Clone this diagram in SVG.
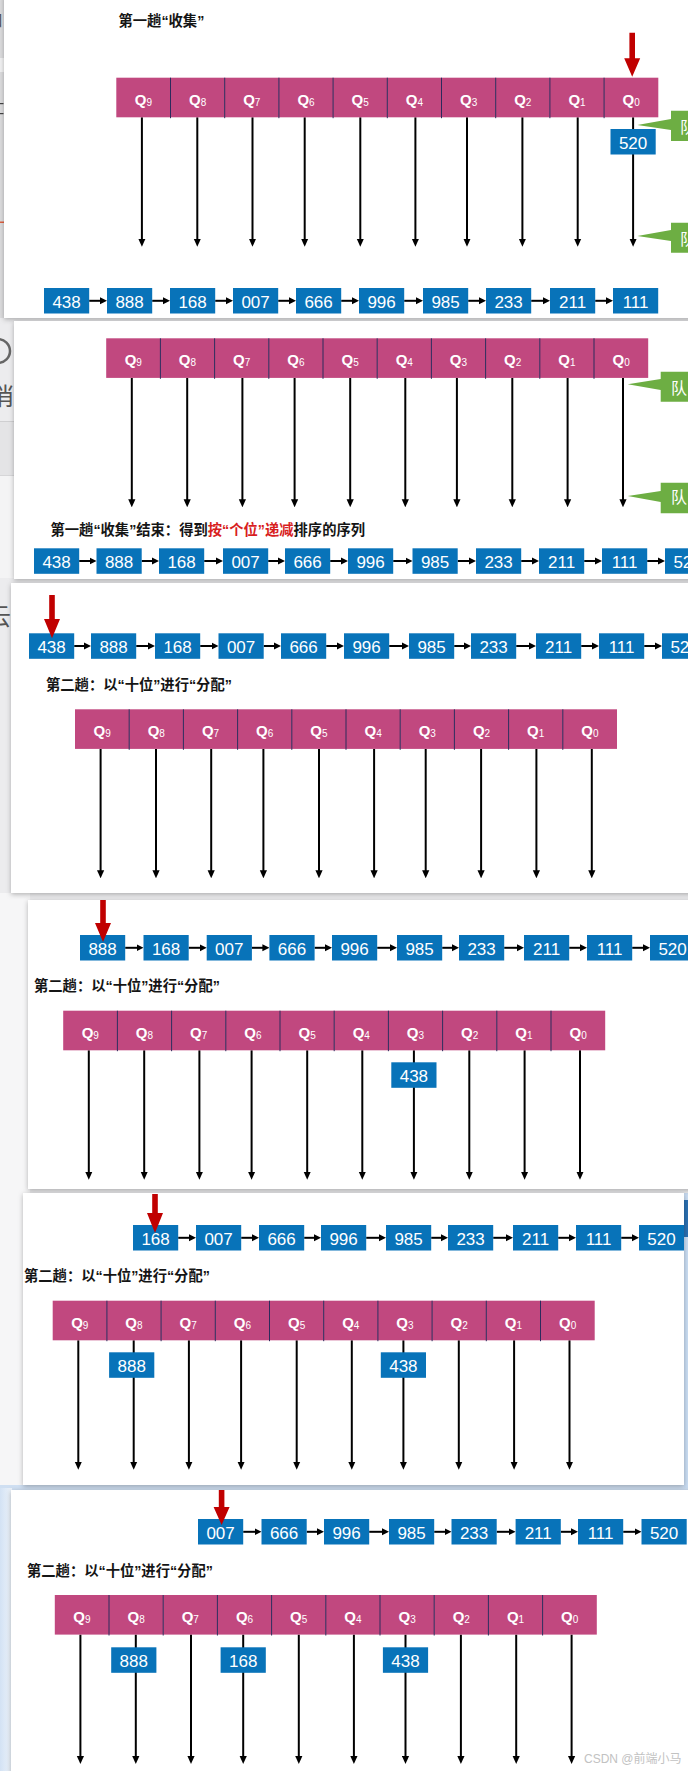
<svg xmlns="http://www.w3.org/2000/svg" width="688" height="1771" viewBox="0 0 688 1771">
<style>
.pn{fill:#fff;filter:url(#sh)}
.q rect{fill:#C1487F}
.dv{stroke:#2c2a5c;stroke-width:1;fill:none}
.qt{font-family:"Liberation Sans",Arial,sans-serif;font-weight:bold;font-size:15px;fill:#fff;text-anchor:middle}
.qt tspan{font-size:10px;font-weight:normal}
.nb rect{fill:#0873B9}
.nt{font-family:"Liberation Sans",Arial,sans-serif;font-size:17px;fill:#fff;text-anchor:middle}
.dn{stroke:#000;stroke-width:2;marker-end:url(#ad)}
.hz{stroke:#000;stroke-width:2;marker-end:url(#ah)}
.tt{font-family:"Liberation Sans","Noto Sans CJK SC",sans-serif;font-weight:bold;font-size:14.3px;fill:#151515}
.red{fill:#d81e1e}
.ra{fill:#C00000}
.gc{fill:#6DAE43}
.gt{font-family:"Noto Sans CJK SC",sans-serif;font-size:16px;fill:#fff}
.frag{font-family:"Noto Sans CJK SC",sans-serif;fill:#555}
</style>
<defs>
<filter id="sh" x="-5%" y="-5%" width="110%" height="115%"><feDropShadow dx="0" dy="1.5" stdDeviation="2.5" flood-color="#000" flood-opacity="0.28"/></filter>
<marker id="ad" viewBox="0 -4 8 8" markerWidth="8" markerHeight="8" refX="4" refY="0" orient="auto" markerUnits="userSpaceOnUse"><path d="M0,-3.6L8,0L0,3.6Z" fill="#000"/></marker>
<marker id="ah" viewBox="0 -4 7 8" markerWidth="7" markerHeight="8" refX="3.5" refY="0" orient="auto" markerUnits="userSpaceOnUse"><path d="M0,-3.5L7,0L0,3.5Z" fill="#000"/></marker>
<linearGradient id="lb" x1="0" y1="0" x2="1" y2="0"><stop offset="0" stop-color="#d3e2f4"/><stop offset="1" stop-color="#eef4fb"/></linearGradient>
</defs>

<!-- background and side fragments -->
<rect x="0" y="0" width="688" height="1771" fill="#ececee"/>
<rect x="0" y="893" width="30" height="600" fill="#f6f6f7"/>
<rect x="0" y="1485" width="688" height="6" fill="#cfdff2"/>
<rect x="0" y="1488" width="12" height="283" fill="url(#lb)"/>
<rect x="0" y="0" width="5" height="318" fill="#dcdcde"/>
<rect x="0" y="58" width="5" height="14" fill="#f2f2f3"/>
<rect x="0" y="103" width="3.5" height="1.2" fill="#444"/>
<rect x="0" y="113" width="3.5" height="1.2" fill="#444"/>
<rect x="0" y="221.5" width="5" height="1.5" fill="#e06040"/>
<text class="frag" x="-13" y="26" font-size="16">口</text>
<rect x="0" y="421" width="15" height="54" fill="#e4e4e6"/>
<rect x="0" y="421" width="15" height="1" fill="#cfcfd1"/>
<rect x="0" y="475" width="15" height="1" fill="#d6d6d8"/>
<rect x="0" y="476" width="15" height="102" fill="#f4f4f5"/>
<circle cx="-2" cy="351" r="12" fill="none" stroke="#666" stroke-width="2.5"/>
<text class="frag" x="-10" y="405" font-size="24">消</text>
<text class="frag" x="-13" y="625" font-size="24">云</text>
<rect x="684" y="1193" width="4" height="295" fill="#c9dcf2"/>
<rect x="684" y="1200" width="4" height="37" fill="#2a6fb0"/>

<!-- panels -->
<rect id="p1" class="pn" x="4" y="-5" width="690" height="323"/>
<rect id="p2" class="pn" x="14" y="321" width="680" height="258"/>
<rect id="p3" class="pn" x="11" y="583" width="683" height="310"/>
<rect id="p4" class="pn" x="28" y="900" width="666" height="289"/>
<rect id="p5" class="pn" x="23" y="1193" width="661" height="292"/>
<rect id="p6" class="pn" x="11" y="1490" width="683" height="290"/>

<!-- titles -->
<text id="p1-title" class="tt" x="118.5" y="26">第一趟“收集”</text>
<text id="p2-title" class="tt" x="50.5" y="535">第一趟“收集”结束：得到<tspan class="red">按“个位”递减</tspan>排序的序列</text>
<text id="p3-title" class="tt" x="46" y="689.5">第二趟：以“十位”进行“分配”</text>
<text id="p4-title" class="tt" x="34" y="991">第二趟：以“十位”进行“分配”</text>
<text id="p5-title" class="tt" x="24" y="1281">第二趟：以“十位”进行“分配”</text>
<text id="p6-title" class="tt" x="27" y="1576">第二趟：以“十位”进行“分配”</text>

<!-- green callouts -->
<g id="p1-callout-a"><path class="gc" d="M637.3,125L671,119V110.7H690V141H671V130Z"/><text class="gt" x="680" y="133">队</text></g>
<g id="p1-callout-b"><path class="gc" d="M637.3,236L671,230V222.7H690V252.7H671V241Z"/><text class="gt" x="680" y="245">队</text></g>
<g id="p2-callout-a"><path class="gc" d="M627.7,384.3L660.7,379V371.7H690V401.7H660.7V390Z"/><text class="gt" x="671" y="394">队</text></g>
<g id="p2-callout-b"><path class="gc" d="M627.7,496L660.7,491V482.7H690V513.3H660.7V502Z"/><text class="gt" x="671" y="502.5">队</text></g>

<!-- connectors -->
<g id="connectors">
<g transform="translate(116.3,77.7)"><line class="dn" x1="25.6" y1="39.6" x2="25.6" y2="165"/><line class="dn" x1="81" y1="39.6" x2="81" y2="165"/><line class="dn" x1="136.2" y1="39.6" x2="136.2" y2="165"/><line class="dn" x1="188.4" y1="39.6" x2="188.4" y2="165"/><line class="dn" x1="244" y1="39.6" x2="244" y2="165"/><line class="dn" x1="299.1" y1="39.6" x2="299.1" y2="165"/><line class="dn" x1="350.7" y1="39.6" x2="350.7" y2="165"/><line class="dn" x1="406.1" y1="39.6" x2="406.1" y2="165"/><line class="dn" x1="461.4" y1="39.6" x2="461.4" y2="165"/><line class="dn" x1="516.8" y1="39.6" x2="516.8" y2="165"/></g>
<g transform="translate(106.2,338.3)"><line class="dn" x1="25.6" y1="39.6" x2="25.6" y2="165"/><line class="dn" x1="81" y1="39.6" x2="81" y2="165"/><line class="dn" x1="136.2" y1="39.6" x2="136.2" y2="165"/><line class="dn" x1="188.4" y1="39.6" x2="188.4" y2="165"/><line class="dn" x1="244" y1="39.6" x2="244" y2="165"/><line class="dn" x1="299.1" y1="39.6" x2="299.1" y2="165"/><line class="dn" x1="350.7" y1="39.6" x2="350.7" y2="165"/><line class="dn" x1="406.1" y1="39.6" x2="406.1" y2="165"/><line class="dn" x1="461.4" y1="39.6" x2="461.4" y2="165"/><line class="dn" x1="516.8" y1="39.6" x2="516.8" y2="165"/></g>
<g transform="translate(75,709.3)"><line class="dn" x1="25.6" y1="39.6" x2="25.6" y2="165"/><line class="dn" x1="81" y1="39.6" x2="81" y2="165"/><line class="dn" x1="136.2" y1="39.6" x2="136.2" y2="165"/><line class="dn" x1="188.4" y1="39.6" x2="188.4" y2="165"/><line class="dn" x1="244" y1="39.6" x2="244" y2="165"/><line class="dn" x1="299.1" y1="39.6" x2="299.1" y2="165"/><line class="dn" x1="350.7" y1="39.6" x2="350.7" y2="165"/><line class="dn" x1="406.1" y1="39.6" x2="406.1" y2="165"/><line class="dn" x1="461.4" y1="39.6" x2="461.4" y2="165"/><line class="dn" x1="516.8" y1="39.6" x2="516.8" y2="165"/></g>
<g transform="translate(63.2,1010.7)"><line class="dn" x1="25.6" y1="39.6" x2="25.6" y2="165"/><line class="dn" x1="81" y1="39.6" x2="81" y2="165"/><line class="dn" x1="136.2" y1="39.6" x2="136.2" y2="165"/><line class="dn" x1="188.4" y1="39.6" x2="188.4" y2="165"/><line class="dn" x1="244" y1="39.6" x2="244" y2="165"/><line class="dn" x1="299.1" y1="39.6" x2="299.1" y2="165"/><line class="dn" x1="350.7" y1="39.6" x2="350.7" y2="165"/><line class="dn" x1="406.1" y1="39.6" x2="406.1" y2="165"/><line class="dn" x1="461.4" y1="39.6" x2="461.4" y2="165"/><line class="dn" x1="516.8" y1="39.6" x2="516.8" y2="165"/></g>
<g transform="translate(52.7,1300.7)"><line class="dn" x1="25.6" y1="39.6" x2="25.6" y2="165"/><line class="dn" x1="81" y1="39.6" x2="81" y2="165"/><line class="dn" x1="136.2" y1="39.6" x2="136.2" y2="165"/><line class="dn" x1="188.4" y1="39.6" x2="188.4" y2="165"/><line class="dn" x1="244" y1="39.6" x2="244" y2="165"/><line class="dn" x1="299.1" y1="39.6" x2="299.1" y2="165"/><line class="dn" x1="350.7" y1="39.6" x2="350.7" y2="165"/><line class="dn" x1="406.1" y1="39.6" x2="406.1" y2="165"/><line class="dn" x1="461.4" y1="39.6" x2="461.4" y2="165"/><line class="dn" x1="516.8" y1="39.6" x2="516.8" y2="165"/></g>
<g transform="translate(54.8,1595)"><line class="dn" x1="25.6" y1="39.6" x2="25.6" y2="165"/><line class="dn" x1="81" y1="39.6" x2="81" y2="165"/><line class="dn" x1="136.2" y1="39.6" x2="136.2" y2="165"/><line class="dn" x1="188.4" y1="39.6" x2="188.4" y2="165"/><line class="dn" x1="244" y1="39.6" x2="244" y2="165"/><line class="dn" x1="299.1" y1="39.6" x2="299.1" y2="165"/><line class="dn" x1="350.7" y1="39.6" x2="350.7" y2="165"/><line class="dn" x1="406.1" y1="39.6" x2="406.1" y2="165"/><line class="dn" x1="461.4" y1="39.6" x2="461.4" y2="165"/><line class="dn" x1="516.8" y1="39.6" x2="516.8" y2="165"/></g>
<g transform="translate(0,300.8)"><line class="hz" x1="89.2" y1="0" x2="103.5" y2="0"/><line class="hz" x1="152.2" y1="0" x2="166.5" y2="0"/><line class="hz" x1="215.2" y1="0" x2="229.5" y2="0"/><line class="hz" x1="278.2" y1="0" x2="292.5" y2="0"/><line class="hz" x1="341.2" y1="0" x2="355.5" y2="0"/><line class="hz" x1="404.2" y1="0" x2="419.5" y2="0"/><line class="hz" x1="468.2" y1="0" x2="482.5" y2="0"/><line class="hz" x1="531.2" y1="0" x2="546.5" y2="0"/><line class="hz" x1="595.2" y1="0" x2="609.5" y2="0"/></g>
<g transform="translate(0,561)"><line class="hz" x1="79.2" y1="0" x2="93" y2="0"/><line class="hz" x1="141.7" y1="0" x2="155.5" y2="0"/><line class="hz" x1="204.2" y1="0" x2="219.5" y2="0"/><line class="hz" x1="268.2" y1="0" x2="281.5" y2="0"/><line class="hz" x1="330.2" y1="0" x2="344.5" y2="0"/><line class="hz" x1="393.2" y1="0" x2="409" y2="0"/><line class="hz" x1="457.7" y1="0" x2="472.5" y2="0"/><line class="hz" x1="521.2" y1="0" x2="535.5" y2="0"/><line class="hz" x1="584.2" y1="0" x2="598.5" y2="0"/><line class="hz" x1="647.2" y1="0" x2="661.5" y2="0"/></g>
<g transform="translate(0,646)"><line class="hz" x1="74.2" y1="0" x2="87.5" y2="0"/><line class="hz" x1="136.2" y1="0" x2="151.5" y2="0"/><line class="hz" x1="200.2" y1="0" x2="215" y2="0"/><line class="hz" x1="263.7" y1="0" x2="277.5" y2="0"/><line class="hz" x1="326.2" y1="0" x2="340.5" y2="0"/><line class="hz" x1="389.2" y1="0" x2="405.5" y2="0"/><line class="hz" x1="454.2" y1="0" x2="467.5" y2="0"/><line class="hz" x1="516.2" y1="0" x2="532.5" y2="0"/><line class="hz" x1="581.2" y1="0" x2="595.5" y2="0"/><line class="hz" x1="644.2" y1="0" x2="658.5" y2="0"/></g>
<g transform="translate(0,947.8)"><line class="hz" x1="125.2" y1="0" x2="140" y2="0"/><line class="hz" x1="188.7" y1="0" x2="203.2" y2="0"/><line class="hz" x1="251.9" y1="0" x2="265.9" y2="0"/><line class="hz" x1="314.6" y1="0" x2="328.5" y2="0"/><line class="hz" x1="377.2" y1="0" x2="393.5" y2="0"/><line class="hz" x1="442.2" y1="0" x2="455.5" y2="0"/><line class="hz" x1="504.2" y1="0" x2="520.5" y2="0"/><line class="hz" x1="569.2" y1="0" x2="583.5" y2="0"/><line class="hz" x1="632.2" y1="0" x2="646.5" y2="0"/></g>
<g transform="translate(0,1237.8)"><line class="hz" x1="178.2" y1="0" x2="192.5" y2="0"/><line class="hz" x1="241.2" y1="0" x2="255.5" y2="0"/><line class="hz" x1="304.2" y1="0" x2="317.5" y2="0"/><line class="hz" x1="366.2" y1="0" x2="382.5" y2="0"/><line class="hz" x1="431.2" y1="0" x2="444.5" y2="0"/><line class="hz" x1="493.2" y1="0" x2="509.5" y2="0"/><line class="hz" x1="558.2" y1="0" x2="572.5" y2="0"/><line class="hz" x1="621.2" y1="0" x2="635.5" y2="0"/></g>
<g transform="translate(0,1531.8)"><line class="hz" x1="243.2" y1="0" x2="258" y2="0"/><line class="hz" x1="306.7" y1="0" x2="320.5" y2="0"/><line class="hz" x1="369.2" y1="0" x2="385.5" y2="0"/><line class="hz" x1="434.2" y1="0" x2="448" y2="0"/><line class="hz" x1="496.7" y1="0" x2="512.1" y2="0"/><line class="hz" x1="560.8" y1="0" x2="574.5" y2="0"/><line class="hz" x1="623.2" y1="0" x2="638" y2="0"/></g>
</g>

<!-- queue rows -->
<g id="p1-queues" transform="translate(116.3,77.7)">
<g id="p1-q9" class="q"><rect x="0" width="54.2" height="39.6"/><text class="qt" x="27.1" y="27">Q<tspan dy="1">9</tspan></text></g>
<g id="p1-q8" class="q"><rect x="54.2" width="54.2" height="39.6"/><text class="qt" x="81.3" y="27">Q<tspan dy="1">8</tspan></text></g>
<g id="p1-q7" class="q"><rect x="108.4" width="54.2" height="39.6"/><text class="qt" x="135.5" y="27">Q<tspan dy="1">7</tspan></text></g>
<g id="p1-q6" class="q"><rect x="162.6" width="54.2" height="39.6"/><text class="qt" x="189.7" y="27">Q<tspan dy="1">6</tspan></text></g>
<g id="p1-q5" class="q"><rect x="216.8" width="54.2" height="39.6"/><text class="qt" x="243.9" y="27">Q<tspan dy="1">5</tspan></text></g>
<g id="p1-q4" class="q"><rect x="271" width="54.2" height="39.6"/><text class="qt" x="298.1" y="27">Q<tspan dy="1">4</tspan></text></g>
<g id="p1-q3" class="q"><rect x="325.2" width="54.2" height="39.6"/><text class="qt" x="352.3" y="27">Q<tspan dy="1">3</tspan></text></g>
<g id="p1-q2" class="q"><rect x="379.4" width="54.2" height="39.6"/><text class="qt" x="406.5" y="27">Q<tspan dy="1">2</tspan></text></g>
<g id="p1-q1" class="q"><rect x="433.6" width="54.2" height="39.6"/><text class="qt" x="460.7" y="27">Q<tspan dy="1">1</tspan></text></g>
<g id="p1-q0" class="q"><rect x="487.8" width="54.2" height="39.6"/><text class="qt" x="514.9" y="27">Q<tspan dy="1">0</tspan></text></g>
<path class="dv" d="M54.2,0V40.5M108.4,0V40.5M162.6,0V40.5M216.8,0V40.5M271,0V40.5M325.2,0V40.5M379.4,0V40.5M433.6,0V40.5M487.8,0V40.5"/>
<g id="p1-n520" class="nb"><rect x="494.2" y="51.3" width="45.2" height="25.5"/><text class="nt" x="516.8" y="71.1">520</text></g>
</g>
<g id="p2-queues" transform="translate(106.2,338.3)">
<g id="p2-q9" class="q"><rect x="0" width="54.2" height="39.6"/><text class="qt" x="27.1" y="27">Q<tspan dy="1">9</tspan></text></g>
<g id="p2-q8" class="q"><rect x="54.2" width="54.2" height="39.6"/><text class="qt" x="81.3" y="27">Q<tspan dy="1">8</tspan></text></g>
<g id="p2-q7" class="q"><rect x="108.4" width="54.2" height="39.6"/><text class="qt" x="135.5" y="27">Q<tspan dy="1">7</tspan></text></g>
<g id="p2-q6" class="q"><rect x="162.6" width="54.2" height="39.6"/><text class="qt" x="189.7" y="27">Q<tspan dy="1">6</tspan></text></g>
<g id="p2-q5" class="q"><rect x="216.8" width="54.2" height="39.6"/><text class="qt" x="243.9" y="27">Q<tspan dy="1">5</tspan></text></g>
<g id="p2-q4" class="q"><rect x="271" width="54.2" height="39.6"/><text class="qt" x="298.1" y="27">Q<tspan dy="1">4</tspan></text></g>
<g id="p2-q3" class="q"><rect x="325.2" width="54.2" height="39.6"/><text class="qt" x="352.3" y="27">Q<tspan dy="1">3</tspan></text></g>
<g id="p2-q2" class="q"><rect x="379.4" width="54.2" height="39.6"/><text class="qt" x="406.5" y="27">Q<tspan dy="1">2</tspan></text></g>
<g id="p2-q1" class="q"><rect x="433.6" width="54.2" height="39.6"/><text class="qt" x="460.7" y="27">Q<tspan dy="1">1</tspan></text></g>
<g id="p2-q0" class="q"><rect x="487.8" width="54.2" height="39.6"/><text class="qt" x="514.9" y="27">Q<tspan dy="1">0</tspan></text></g>
<path class="dv" d="M54.2,0V40.5M108.4,0V40.5M162.6,0V40.5M216.8,0V40.5M271,0V40.5M325.2,0V40.5M379.4,0V40.5M433.6,0V40.5M487.8,0V40.5"/>
</g>
<g id="p3-queues" transform="translate(75,709.3)">
<g id="p3-q9" class="q"><rect x="0" width="54.2" height="39.6"/><text class="qt" x="27.1" y="27">Q<tspan dy="1">9</tspan></text></g>
<g id="p3-q8" class="q"><rect x="54.2" width="54.2" height="39.6"/><text class="qt" x="81.3" y="27">Q<tspan dy="1">8</tspan></text></g>
<g id="p3-q7" class="q"><rect x="108.4" width="54.2" height="39.6"/><text class="qt" x="135.5" y="27">Q<tspan dy="1">7</tspan></text></g>
<g id="p3-q6" class="q"><rect x="162.6" width="54.2" height="39.6"/><text class="qt" x="189.7" y="27">Q<tspan dy="1">6</tspan></text></g>
<g id="p3-q5" class="q"><rect x="216.8" width="54.2" height="39.6"/><text class="qt" x="243.9" y="27">Q<tspan dy="1">5</tspan></text></g>
<g id="p3-q4" class="q"><rect x="271" width="54.2" height="39.6"/><text class="qt" x="298.1" y="27">Q<tspan dy="1">4</tspan></text></g>
<g id="p3-q3" class="q"><rect x="325.2" width="54.2" height="39.6"/><text class="qt" x="352.3" y="27">Q<tspan dy="1">3</tspan></text></g>
<g id="p3-q2" class="q"><rect x="379.4" width="54.2" height="39.6"/><text class="qt" x="406.5" y="27">Q<tspan dy="1">2</tspan></text></g>
<g id="p3-q1" class="q"><rect x="433.6" width="54.2" height="39.6"/><text class="qt" x="460.7" y="27">Q<tspan dy="1">1</tspan></text></g>
<g id="p3-q0" class="q"><rect x="487.8" width="54.2" height="39.6"/><text class="qt" x="514.9" y="27">Q<tspan dy="1">0</tspan></text></g>
<path class="dv" d="M54.2,0V40.5M108.4,0V40.5M162.6,0V40.5M216.8,0V40.5M271,0V40.5M325.2,0V40.5M379.4,0V40.5M433.6,0V40.5M487.8,0V40.5"/>
</g>
<g id="p4-queues" transform="translate(63.2,1010.7)">
<g id="p4-q9" class="q"><rect x="0" width="54.2" height="39.6"/><text class="qt" x="27.1" y="27">Q<tspan dy="1">9</tspan></text></g>
<g id="p4-q8" class="q"><rect x="54.2" width="54.2" height="39.6"/><text class="qt" x="81.3" y="27">Q<tspan dy="1">8</tspan></text></g>
<g id="p4-q7" class="q"><rect x="108.4" width="54.2" height="39.6"/><text class="qt" x="135.5" y="27">Q<tspan dy="1">7</tspan></text></g>
<g id="p4-q6" class="q"><rect x="162.6" width="54.2" height="39.6"/><text class="qt" x="189.7" y="27">Q<tspan dy="1">6</tspan></text></g>
<g id="p4-q5" class="q"><rect x="216.8" width="54.2" height="39.6"/><text class="qt" x="243.9" y="27">Q<tspan dy="1">5</tspan></text></g>
<g id="p4-q4" class="q"><rect x="271" width="54.2" height="39.6"/><text class="qt" x="298.1" y="27">Q<tspan dy="1">4</tspan></text></g>
<g id="p4-q3" class="q"><rect x="325.2" width="54.2" height="39.6"/><text class="qt" x="352.3" y="27">Q<tspan dy="1">3</tspan></text></g>
<g id="p4-q2" class="q"><rect x="379.4" width="54.2" height="39.6"/><text class="qt" x="406.5" y="27">Q<tspan dy="1">2</tspan></text></g>
<g id="p4-q1" class="q"><rect x="433.6" width="54.2" height="39.6"/><text class="qt" x="460.7" y="27">Q<tspan dy="1">1</tspan></text></g>
<g id="p4-q0" class="q"><rect x="487.8" width="54.2" height="39.6"/><text class="qt" x="514.9" y="27">Q<tspan dy="1">0</tspan></text></g>
<path class="dv" d="M54.2,0V40.5M108.4,0V40.5M162.6,0V40.5M216.8,0V40.5M271,0V40.5M325.2,0V40.5M379.4,0V40.5M433.6,0V40.5M487.8,0V40.5"/>
<g id="p4-n438" class="nb"><rect x="328.1" y="51.6" width="45.2" height="25.5"/><text class="nt" x="350.7" y="71.4">438</text></g>
</g>
<g id="p5-queues" transform="translate(52.7,1300.7)">
<g id="p5-q9" class="q"><rect x="0" width="54.2" height="39.6"/><text class="qt" x="27.1" y="27">Q<tspan dy="1">9</tspan></text></g>
<g id="p5-q8" class="q"><rect x="54.2" width="54.2" height="39.6"/><text class="qt" x="81.3" y="27">Q<tspan dy="1">8</tspan></text></g>
<g id="p5-q7" class="q"><rect x="108.4" width="54.2" height="39.6"/><text class="qt" x="135.5" y="27">Q<tspan dy="1">7</tspan></text></g>
<g id="p5-q6" class="q"><rect x="162.6" width="54.2" height="39.6"/><text class="qt" x="189.7" y="27">Q<tspan dy="1">6</tspan></text></g>
<g id="p5-q5" class="q"><rect x="216.8" width="54.2" height="39.6"/><text class="qt" x="243.9" y="27">Q<tspan dy="1">5</tspan></text></g>
<g id="p5-q4" class="q"><rect x="271" width="54.2" height="39.6"/><text class="qt" x="298.1" y="27">Q<tspan dy="1">4</tspan></text></g>
<g id="p5-q3" class="q"><rect x="325.2" width="54.2" height="39.6"/><text class="qt" x="352.3" y="27">Q<tspan dy="1">3</tspan></text></g>
<g id="p5-q2" class="q"><rect x="379.4" width="54.2" height="39.6"/><text class="qt" x="406.5" y="27">Q<tspan dy="1">2</tspan></text></g>
<g id="p5-q1" class="q"><rect x="433.6" width="54.2" height="39.6"/><text class="qt" x="460.7" y="27">Q<tspan dy="1">1</tspan></text></g>
<g id="p5-q0" class="q"><rect x="487.8" width="54.2" height="39.6"/><text class="qt" x="514.9" y="27">Q<tspan dy="1">0</tspan></text></g>
<path class="dv" d="M54.2,0V40.5M108.4,0V40.5M162.6,0V40.5M216.8,0V40.5M271,0V40.5M325.2,0V40.5M379.4,0V40.5M433.6,0V40.5M487.8,0V40.5"/>
<g id="p5-n888" class="nb"><rect x="56.4" y="51.6" width="45.2" height="25.5"/><text class="nt" x="79" y="71.4">888</text></g>
<g id="p5-n438" class="nb"><rect x="328.1" y="51.6" width="45.2" height="25.5"/><text class="nt" x="350.7" y="71.4">438</text></g>
</g>
<g id="p6-queues" transform="translate(54.8,1595)">
<g id="p6-q9" class="q"><rect x="0" width="54.2" height="39.6"/><text class="qt" x="27.1" y="27">Q<tspan dy="1">9</tspan></text></g>
<g id="p6-q8" class="q"><rect x="54.2" width="54.2" height="39.6"/><text class="qt" x="81.3" y="27">Q<tspan dy="1">8</tspan></text></g>
<g id="p6-q7" class="q"><rect x="108.4" width="54.2" height="39.6"/><text class="qt" x="135.5" y="27">Q<tspan dy="1">7</tspan></text></g>
<g id="p6-q6" class="q"><rect x="162.6" width="54.2" height="39.6"/><text class="qt" x="189.7" y="27">Q<tspan dy="1">6</tspan></text></g>
<g id="p6-q5" class="q"><rect x="216.8" width="54.2" height="39.6"/><text class="qt" x="243.9" y="27">Q<tspan dy="1">5</tspan></text></g>
<g id="p6-q4" class="q"><rect x="271" width="54.2" height="39.6"/><text class="qt" x="298.1" y="27">Q<tspan dy="1">4</tspan></text></g>
<g id="p6-q3" class="q"><rect x="325.2" width="54.2" height="39.6"/><text class="qt" x="352.3" y="27">Q<tspan dy="1">3</tspan></text></g>
<g id="p6-q2" class="q"><rect x="379.4" width="54.2" height="39.6"/><text class="qt" x="406.5" y="27">Q<tspan dy="1">2</tspan></text></g>
<g id="p6-q1" class="q"><rect x="433.6" width="54.2" height="39.6"/><text class="qt" x="460.7" y="27">Q<tspan dy="1">1</tspan></text></g>
<g id="p6-q0" class="q"><rect x="487.8" width="54.2" height="39.6"/><text class="qt" x="514.9" y="27">Q<tspan dy="1">0</tspan></text></g>
<path class="dv" d="M54.2,0V40.5M108.4,0V40.5M162.6,0V40.5M216.8,0V40.5M271,0V40.5M325.2,0V40.5M379.4,0V40.5M433.6,0V40.5M487.8,0V40.5"/>
<g id="p6-n888" class="nb"><rect x="56.4" y="52.3" width="45.2" height="25.5"/><text class="nt" x="79" y="72.1">888</text></g>
<g id="p6-n168" class="nb"><rect x="165.8" y="52.3" width="45.2" height="25.5"/><text class="nt" x="188.4" y="72.1">168</text></g>
<g id="p6-n438" class="nb"><rect x="328.1" y="52.3" width="45.2" height="25.5"/><text class="nt" x="350.7" y="72.1">438</text></g>
</g>

<!-- number rows -->
<g id="p1-list" transform="translate(0,288)">
<g id="p1-a438" class="nb"><rect x="44" width="45.2" height="25.5"/><text class="nt" x="66.6" y="19.8">438</text></g>
<g id="p1-a888" class="nb"><rect x="107" width="45.2" height="25.5"/><text class="nt" x="129.6" y="19.8">888</text></g>
<g id="p1-a168" class="nb"><rect x="170" width="45.2" height="25.5"/><text class="nt" x="192.6" y="19.8">168</text></g>
<g id="p1-a007" class="nb"><rect x="233" width="45.2" height="25.5"/><text class="nt" x="255.6" y="19.8">007</text></g>
<g id="p1-a666" class="nb"><rect x="296" width="45.2" height="25.5"/><text class="nt" x="318.6" y="19.8">666</text></g>
<g id="p1-a996" class="nb"><rect x="359" width="45.2" height="25.5"/><text class="nt" x="381.6" y="19.8">996</text></g>
<g id="p1-a985" class="nb"><rect x="423" width="45.2" height="25.5"/><text class="nt" x="445.6" y="19.8">985</text></g>
<g id="p1-a233" class="nb"><rect x="486" width="45.2" height="25.5"/><text class="nt" x="508.6" y="19.8">233</text></g>
<g id="p1-a211" class="nb"><rect x="550" width="45.2" height="25.5"/><text class="nt" x="572.6" y="19.8">211</text></g>
<g id="p1-a111" class="nb"><rect x="613" width="45.2" height="25.5"/><text class="nt" x="635.6" y="19.8">111</text></g>
</g>
<g id="p2-list" transform="translate(0,548.3)">
<g id="p2-a438" class="nb"><rect x="34" width="45.2" height="25.5"/><text class="nt" x="56.6" y="19.8">438</text></g>
<g id="p2-a888" class="nb"><rect x="96.5" width="45.2" height="25.5"/><text class="nt" x="119.1" y="19.8">888</text></g>
<g id="p2-a168" class="nb"><rect x="159" width="45.2" height="25.5"/><text class="nt" x="181.6" y="19.8">168</text></g>
<g id="p2-a007" class="nb"><rect x="223" width="45.2" height="25.5"/><text class="nt" x="245.6" y="19.8">007</text></g>
<g id="p2-a666" class="nb"><rect x="285" width="45.2" height="25.5"/><text class="nt" x="307.6" y="19.8">666</text></g>
<g id="p2-a996" class="nb"><rect x="348" width="45.2" height="25.5"/><text class="nt" x="370.6" y="19.8">996</text></g>
<g id="p2-a985" class="nb"><rect x="412.5" width="45.2" height="25.5"/><text class="nt" x="435.1" y="19.8">985</text></g>
<g id="p2-a233" class="nb"><rect x="476" width="45.2" height="25.5"/><text class="nt" x="498.6" y="19.8">233</text></g>
<g id="p2-a211" class="nb"><rect x="539" width="45.2" height="25.5"/><text class="nt" x="561.6" y="19.8">211</text></g>
<g id="p2-a111" class="nb"><rect x="602" width="45.2" height="25.5"/><text class="nt" x="624.6" y="19.8">111</text></g>
<g id="p2-a520" class="nb"><rect x="665" width="45.2" height="25.5"/><text class="nt" x="687.6" y="19.8">520</text></g>
</g>
<g id="p3-list" transform="translate(0,633.3)">
<g id="p3-a438" class="nb"><rect x="29" width="45.2" height="25.5"/><text class="nt" x="51.6" y="19.8">438</text></g>
<g id="p3-a888" class="nb"><rect x="91" width="45.2" height="25.5"/><text class="nt" x="113.6" y="19.8">888</text></g>
<g id="p3-a168" class="nb"><rect x="155" width="45.2" height="25.5"/><text class="nt" x="177.6" y="19.8">168</text></g>
<g id="p3-a007" class="nb"><rect x="218.5" width="45.2" height="25.5"/><text class="nt" x="241.1" y="19.8">007</text></g>
<g id="p3-a666" class="nb"><rect x="281" width="45.2" height="25.5"/><text class="nt" x="303.6" y="19.8">666</text></g>
<g id="p3-a996" class="nb"><rect x="344" width="45.2" height="25.5"/><text class="nt" x="366.6" y="19.8">996</text></g>
<g id="p3-a985" class="nb"><rect x="409" width="45.2" height="25.5"/><text class="nt" x="431.6" y="19.8">985</text></g>
<g id="p3-a233" class="nb"><rect x="471" width="45.2" height="25.5"/><text class="nt" x="493.6" y="19.8">233</text></g>
<g id="p3-a211" class="nb"><rect x="536" width="45.2" height="25.5"/><text class="nt" x="558.6" y="19.8">211</text></g>
<g id="p3-a111" class="nb"><rect x="599" width="45.2" height="25.5"/><text class="nt" x="621.6" y="19.8">111</text></g>
<g id="p3-a520" class="nb"><rect x="662" width="45.2" height="25.5"/><text class="nt" x="684.6" y="19.8">520</text></g>
</g>
<g id="p4-list" transform="translate(0,935)">
<g id="p4-a888" class="nb"><rect x="80" width="45.2" height="25.5"/><text class="nt" x="102.6" y="19.8">888</text></g>
<g id="p4-a168" class="nb"><rect x="143.5" width="45.2" height="25.5"/><text class="nt" x="166.1" y="19.8">168</text></g>
<g id="p4-a007" class="nb"><rect x="206.7" width="45.2" height="25.5"/><text class="nt" x="229.3" y="19.8">007</text></g>
<g id="p4-a666" class="nb"><rect x="269.4" width="45.2" height="25.5"/><text class="nt" x="292" y="19.8">666</text></g>
<g id="p4-a996" class="nb"><rect x="332" width="45.2" height="25.5"/><text class="nt" x="354.6" y="19.8">996</text></g>
<g id="p4-a985" class="nb"><rect x="397" width="45.2" height="25.5"/><text class="nt" x="419.6" y="19.8">985</text></g>
<g id="p4-a233" class="nb"><rect x="459" width="45.2" height="25.5"/><text class="nt" x="481.6" y="19.8">233</text></g>
<g id="p4-a211" class="nb"><rect x="524" width="45.2" height="25.5"/><text class="nt" x="546.6" y="19.8">211</text></g>
<g id="p4-a111" class="nb"><rect x="587" width="45.2" height="25.5"/><text class="nt" x="609.6" y="19.8">111</text></g>
<g id="p4-a520" class="nb"><rect x="650" width="45.2" height="25.5"/><text class="nt" x="672.6" y="19.8">520</text></g>
</g>
<g id="p5-list" transform="translate(0,1225)">
<g id="p5-a168" class="nb"><rect x="133" width="45.2" height="25.5"/><text class="nt" x="155.6" y="19.8">168</text></g>
<g id="p5-a007" class="nb"><rect x="196" width="45.2" height="25.5"/><text class="nt" x="218.6" y="19.8">007</text></g>
<g id="p5-a666" class="nb"><rect x="259" width="45.2" height="25.5"/><text class="nt" x="281.6" y="19.8">666</text></g>
<g id="p5-a996" class="nb"><rect x="321" width="45.2" height="25.5"/><text class="nt" x="343.6" y="19.8">996</text></g>
<g id="p5-a985" class="nb"><rect x="386" width="45.2" height="25.5"/><text class="nt" x="408.6" y="19.8">985</text></g>
<g id="p5-a233" class="nb"><rect x="448" width="45.2" height="25.5"/><text class="nt" x="470.6" y="19.8">233</text></g>
<g id="p5-a211" class="nb"><rect x="513" width="45.2" height="25.5"/><text class="nt" x="535.6" y="19.8">211</text></g>
<g id="p5-a111" class="nb"><rect x="576" width="45.2" height="25.5"/><text class="nt" x="598.6" y="19.8">111</text></g>
<g id="p5-a520" class="nb"><rect x="639" width="45" height="25.5"/><text class="nt" x="661.5" y="19.8">520</text></g>
</g>
<g id="p6-list" transform="translate(0,1519)">
<g id="p6-a007" class="nb"><rect x="198" width="45.2" height="25.5"/><text class="nt" x="220.6" y="19.8">007</text></g>
<g id="p6-a666" class="nb"><rect x="261.5" width="45.2" height="25.5"/><text class="nt" x="284.1" y="19.8">666</text></g>
<g id="p6-a996" class="nb"><rect x="324" width="45.2" height="25.5"/><text class="nt" x="346.6" y="19.8">996</text></g>
<g id="p6-a985" class="nb"><rect x="389" width="45.2" height="25.5"/><text class="nt" x="411.6" y="19.8">985</text></g>
<g id="p6-a233" class="nb"><rect x="451.5" width="45.2" height="25.5"/><text class="nt" x="474.1" y="19.8">233</text></g>
<g id="p6-a211" class="nb"><rect x="515.6" width="45.2" height="25.5"/><text class="nt" x="538.2" y="19.8">211</text></g>
<g id="p6-a111" class="nb"><rect x="578" width="45.2" height="25.5"/><text class="nt" x="600.6" y="19.8">111</text></g>
<g id="p6-a520" class="nb"><rect x="641.5" width="45.2" height="25.5"/><text class="nt" x="664.1" y="19.8">520</text></g>
</g>

<!-- red pointer arrows -->
<path id="p1-pointer" class="ra" d="M629.4,32.7H635V58.3H640.2L632.2,76.7L624.2,58.3H629.4Z"/>
<path id="p3-pointer" class="ra" d="M49.2,595H54.8V619H60L52,638.3L44,619H49.2Z"/>
<path id="p4-pointer" class="ra" d="M100.2,900H105.8V923H111L103,942L95,923H100.2Z"/>
<path id="p5-pointer" class="ra" d="M152.2,1194H157.8V1213H163L155,1233L147,1213H152.2Z"/>
<path id="p6-pointer" class="ra" d="M218.8,1490H224.4V1507H229.6L221.6,1525L213.6,1507H218.8Z"/>

<text id="watermark" x="584" y="1763" font-family="'Liberation Sans','Noto Sans CJK SC',sans-serif" font-size="12" fill="#c2c2c2">CSDN @前端小马</text>
</svg>
